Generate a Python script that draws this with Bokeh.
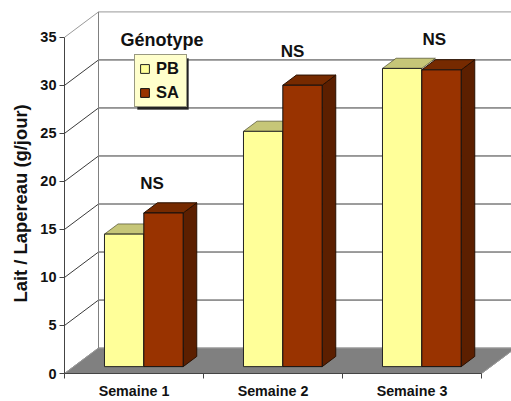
from bokeh.plotting import figure
from bokeh.models import Range1d, LinearAxis, FixedTicker, Legend, LegendItem, Label, BoxAnnotation, Title
from bokeh.embed import file_html
from bokeh.resources import INLINE

categories = ["Semaine 1", "Semaine 2", "Semaine 3"]
pb_values = [13.8, 24.5, 31.05]
sa_values = [16.0, 29.3, 30.9]
y_ticks = [0, 5, 10, 15, 20, 25, 30, 35]
sig_labels = ["NS", "NS", "NS"]
sig_values = [19.8, 33.5, 34.8]
sig_offsets = [0.63, 0.64, 0.66]

DX, DY = 34 / 139, 25.5 / 9.63
D0, D1 = 0.27, 0.67
BAR_W, BAR_OFF = 0.283, 0.2216
FONT = "Liberation Sans"


def proj(x, v, d):
    return x + DX * d, v + DY * d


def poly(corners):
    pts = [proj(*c) for c in corners]
    return [q[0] for q in pts], [q[1] for q in pts]


p = figure(width=511, height=401, output_backend="svg", toolbar_location=None,
           x_range=Range1d(0, 447 / 139), y_range=Range1d(0, 374 / 9.63),
           x_axis_type=None, y_axis_type=None,
           min_border_left=64, min_border_right=0, min_border_top=0, min_border_bottom=27)
p.outline_line_color = None
p.grid.visible = False
p.background_fill_color = "white"
p.border_fill_color = "white"

# Floor
fx, fy = poly([(0, 0, 0), (3, 0, 0), (3, 0, 1), (0, 0, 1)])
p.patch(fx, fy, fill_color="#808080", line_color="#808080", line_width=1)

# Wall grid and diagonals
xs, ys, cols = [], [], []
for v in y_ticks:
    a = proj(0, v, 0)
    b = proj(0, v, 1)
    c = proj(3, v, 1)
    xs.append([a[0], b[0], c[0]])
    ys.append([a[1], b[1], c[1]])
    cols.append("#3a3a3a" if 0 < v < 35 else "#999999")
p.multi_line(xs, ys, line_color=cols, line_width=1)
wx, wy = poly([(0, 0, 1), (0, 35, 1)])
p.line(wx, wy, line_color="#808080", line_width=1)
rx, ry = poly([(3, 0, 0), (3, 0, 1)])
p.line(rx, ry, line_color="#999999", line_width=1)

# Bars
front_pb, front_sa = None, None
for i, (a, b) in enumerate(zip(pb_values, sa_values)):
    left = i + BAR_OFF
    mid = left + BAR_W
    right = mid + BAR_W
    tx, ty = poly([(left, a, D0), (mid, a, D0), (mid, a, D1), (left, a, D1)])
    p.patch(tx, ty, fill_color="#C6C678", line_color="#4a4a2a", line_width=0.7)
    tx, ty = poly([(left, 0, D0), (mid, 0, D0), (mid, a, D0), (left, a, D0)])
    front_pb = p.patch(tx, ty, fill_color="#FFFF99", line_color="#222222", line_width=1)
    tx, ty = poly([(right, 0, D0), (right, 0, D1), (right, b, D1), (right, b, D0)])
    p.patch(tx, ty, fill_color="#5C1F00", line_color="#2a1000", line_width=1)
    tx, ty = poly([(mid, b, D0), (right, b, D0), (right, b, D1), (mid, b, D1)])
    p.patch(tx, ty, fill_color="#762A00", line_color="#2a1000", line_width=1)
    tx, ty = poly([(mid, 0, D0), (right, 0, D0), (right, b, D0), (mid, b, D0)])
    front_sa = p.patch(tx, ty, fill_color="#993300", line_color="#111111", line_width=1)

# Axes
yax = LinearAxis(ticker=FixedTicker(ticks=y_ticks), bounds=(0, 35))
yax.axis_line_color = "#444444"
yax.major_tick_line_color = "#444444"
yax.major_tick_out = 5
yax.major_tick_in = 0
yax.major_label_standoff = 3
yax.major_label_text_font = FONT
yax.major_label_text_font_style = "bold"
yax.major_label_text_font_size = "14.5px"
yax.major_label_text_color = "#111111"
p.add_layout(yax, "left")

p.add_layout(Title(text="Lait / Lapereau (g/jour)", align="left", offset=71, standoff=13,
                   text_font=FONT, text_font_style="bold", text_font_size="18.4px",
                   text_color="#111111"), "left")

centers = [i + 0.5 for i in range(len(categories))]
xax = LinearAxis(ticker=FixedTicker(ticks=centers, minor_ticks=[0, 1, 2, 3]), bounds=(0, 3))
xax.major_label_overrides = dict(zip(centers, categories))
xax.axis_line_color = "#444444"
xax.major_tick_line_color = None
xax.major_tick_out = 0
xax.major_tick_in = 0
xax.minor_tick_line_color = "#444444"
xax.minor_tick_out = 5
xax.minor_tick_in = 0
xax.major_label_standoff = 4
xax.major_label_text_font = FONT
xax.major_label_text_font_style = "bold"
xax.major_label_text_font_size = "14.3px"
xax.major_label_text_color = "#111111"
p.add_layout(xax, "below")

# Significance labels
for i, (s, v, off) in enumerate(zip(sig_labels, sig_values, sig_offsets)):
    p.add_layout(Label(x=i + off, y=v, text=s, text_font=FONT, text_font_style="bold",
                       text_font_size="17px", text_align="center", text_baseline="middle",
                       text_color="#111111"))

# Legend with drop shadow
p.add_layout(BoxAnnotation(left=73, right=124, top=264, bottom=315, left_units="screen", right_units="screen",
                           top_units="screen", bottom_units="screen", fill_color="#222222", fill_alpha=1,
                           line_color="#222222"))
p.add_layout(Label(x=56, y=334, x_units="screen", y_units="screen", text="Génotype", text_font=FONT,
                   text_font_style="bold", text_font_size="18px", text_baseline="middle", text_color="#111111"))
legend = Legend(items=[LegendItem(label="PB", renderers=[front_pb]), LegendItem(label="SA", renderers=[front_sa])],
                location=(70, 266), orientation="vertical", background_fill_color="#FFFFCC", background_fill_alpha=1,
                border_line_color="#333333", border_line_width=1, padding=4, margin=0, spacing=5,
                glyph_width=11, glyph_height=11, label_standoff=6, label_height=14, label_width=26,
                label_text_font=FONT, label_text_font_style="bold", label_text_font_size="16.5px",
                label_text_color="#111111")
p.add_layout(legend, "center")

open("out.html", "w").write(file_html(p, INLINE))
